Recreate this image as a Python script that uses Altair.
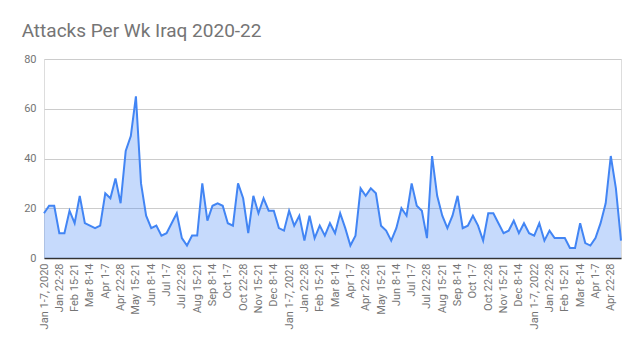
import json
import altair as alt
import pandas as pd

attacks = [18, 21, 21, 10, 10, 19, 14, 25, 14, 13, 12, 13, 26, 24, 32, 22, 43, 49, 65, 30,
           17, 12, 13, 9, 10, 14, 18, 8, 5, 9, 9, 30, 15, 21, 22, 21, 14, 13, 30, 24,
           10, 25, 18, 24, 19, 19, 12, 11, 19, 13, 17, 7, 17, 8, 13, 9, 14, 10, 18, 12,
           5, 9, 28, 25, 28, 26, 13, 11, 7, 12, 20, 17, 30, 21, 19, 8, 41, 25, 17, 12,
           17, 25, 12, 13, 17, 13, 7, 18, 18, 14, 10, 11, 15, 10, 14, 10, 9, 14, 7, 11,
           8, 8, 8, 4, 4, 14, 6, 5, 8, 14, 22, 41, 28, 7]

tick_labels = ["Jan 1-7, 2020", "Jan 22-28", "Feb 15-21", "Mar 8-14", "Apr 1-7", "Apr 22-28",
               "May 15-21", "Jun 8-14", "Jul 1-7", "Jul 22-28", "Aug 15-21", "Sep 8-14",
               "Oct 1-7", "Oct 22-28", "Nov 15-21", "Dec 8-14",
               "Jan 1-7, 2021", "Jan 22-28", "Feb 15-21", "Mar 8-14", "Apr 1-7", "Apr 22-28",
               "May 15-21", "Jun 8-14", "Jul 1-7", "Jul 22-28", "Aug 15-21", "Sep 8-14",
               "Oct 1-7", "Oct 22-28", "Nov 15-21", "Dec 8-14",
               "Jan 1-7, 2022", "Jan 22-28", "Feb 15-21", "Mar 8-14", "Apr 1-7", "Apr 22-28"]

df = pd.DataFrame({"week": list(range(len(attacks))), "attacks": attacks})

tick_values = [3 * i for i in range(len(tick_labels))]
label_expr = "[" + ",".join(json.dumps(t) for t in tick_labels) + "][round(datum.value / 3)]"

x = alt.X("week:Q",
          scale=alt.Scale(domain=[0, len(attacks) - 1], nice=False, zero=False),
          axis=alt.Axis(values=tick_values, labelExpr=label_expr, labelAngle=-90,
                        grid=False, ticks=False, domainColor="#333333", domainWidth=1.5,
                        labelColor="#757575", labelFontSize=11, labelFont="Roboto",
                        labelPadding=5, labelOverlap=False, labelBound=False,
                        labelFlush=False, title=None))
y = alt.Y("attacks:Q",
          scale=alt.Scale(domain=[0, 80], nice=False),
          axis=alt.Axis(values=[0, 20, 40, 60, 80], grid=True, gridColor="#cccccc",
                        gridWidth=1, domain=False, ticks=False, labelColor="#757575",
                        labelFontSize=11, labelFont="Roboto", labelPadding=8, title=None))

area = alt.Chart(df).mark_area(color="#4285F4", opacity=0.3).encode(x=x, y=y)
line = alt.Chart(df).mark_line(color="#4285F4", strokeWidth=2).encode(x=x, y=y)

chart = (area + line).properties(
    width=577, height=199,
    autosize=alt.AutoSizeParams(type="none"),
    padding={"left": 44, "top": 59, "right": 18, "bottom": 94},
    title=alt.TitleParams("Attacks Per Wk Iraq 2020-22", anchor="start", dx=-2,
                          fontSize=19, font="Roboto", fontWeight="normal",
                          color="#757575", offset=12),
).configure_view(stroke=None).configure(background="white")

chart.save("out.html", embed_options={"renderer": "svg", "actions": False})
